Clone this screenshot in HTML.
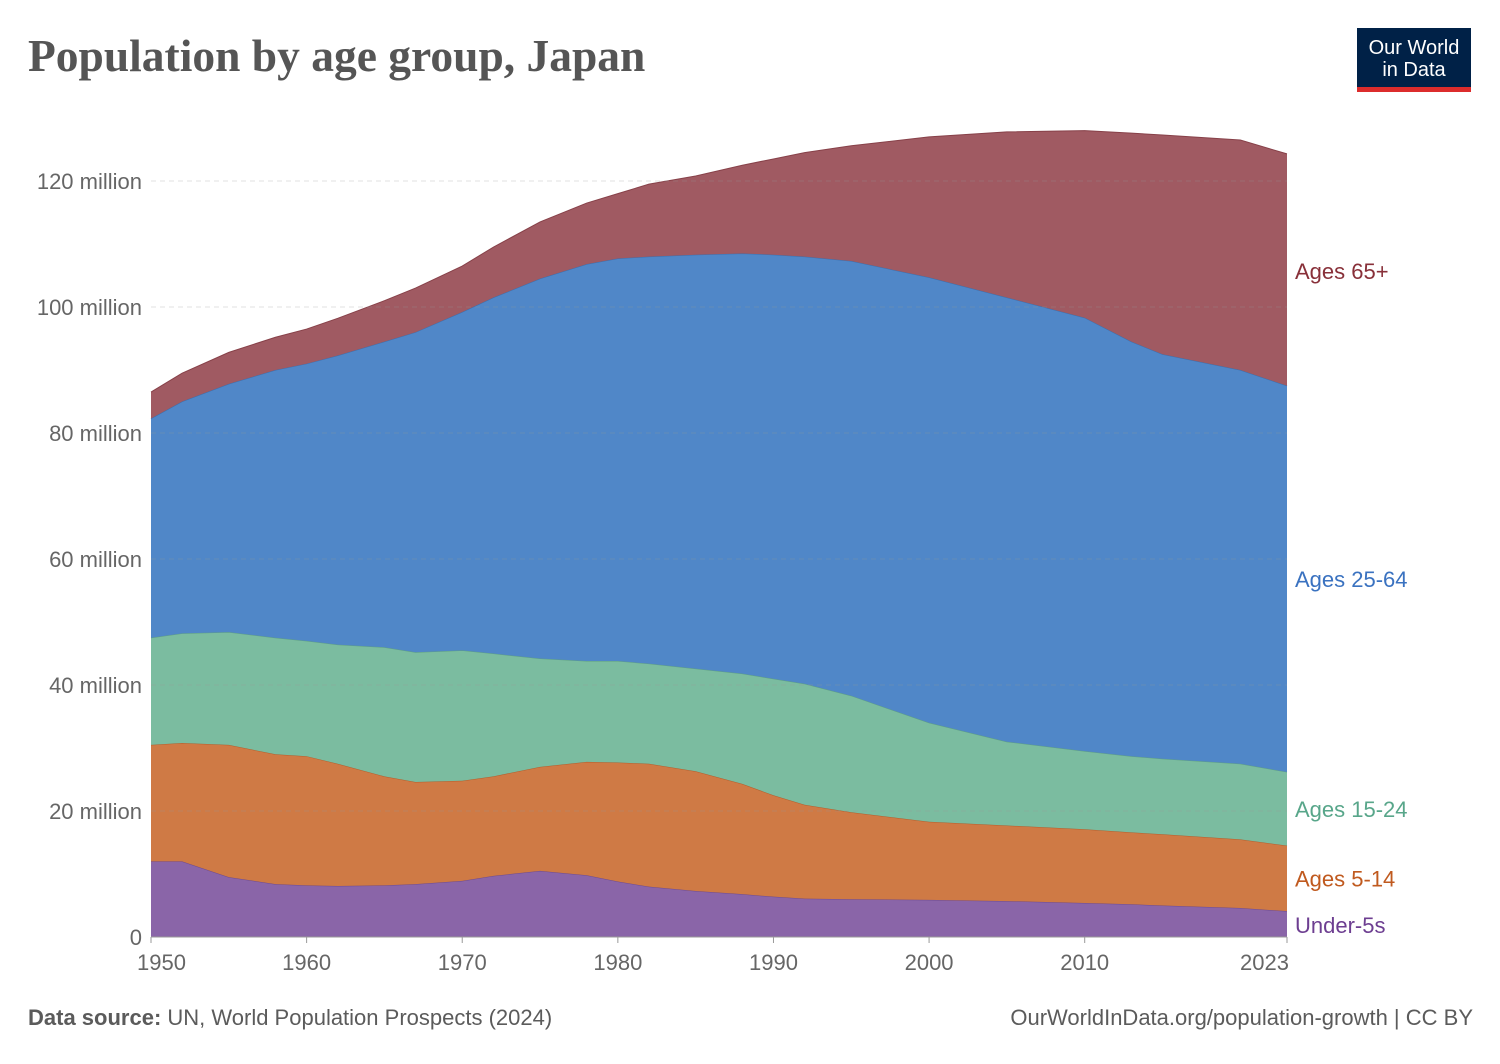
<!DOCTYPE html>
<html><head><meta charset="utf-8">
<style>
body{margin:0;background:#fff;width:1500px;height:1059px;overflow:hidden;font-family:"Liberation Sans",sans-serif}
</style></head>
<body>
<svg id="chart" width="1500" height="1059" xmlns="http://www.w3.org/2000/svg">
<text x="28" y="71" font-family="Liberation Serif, serif" font-weight="bold" font-size="45.5" fill="#555">Population by age group, Japan</text>
<g>
<rect x="1357" y="28" width="114" height="60" fill="#002147"/>
<rect x="1357" y="87" width="114" height="5" fill="#dc2c2c"/>
<text x="1414" y="54" text-anchor="middle" font-size="20" fill="#fff">Our World</text>
<text x="1414" y="76" text-anchor="middle" font-size="20" fill="#fff">in Data</text>
</g>
<g id="areas"></g>
<g id="grid"></g>
<g id="axes"></g>
<g id="labels"></g>
<text x="28" y="1025" font-size="22" fill="#5b5b5b"><tspan font-weight="bold">Data source:</tspan> UN, World Population Prospects (2024)</text>
<text x="1473" y="1025" text-anchor="end" font-size="22" fill="#5b5b5b">OurWorldInData.org/population-growth | CC BY</text>
</svg>
<script>
const years=[1950,1952,1955,1958,1960,1962,1965,1967,1970,1972,1975,1978,1980,1982,1985,1988,1990,1992,1995,2000,2005,2010,2013,2015,2020,2023];
const under5=[12.0,12.0,9.5,8.4,8.2,8.1,8.2,8.4,8.9,9.7,10.5,9.8,8.8,8.0,7.3,6.8,6.4,6.1,6.0,5.9,5.7,5.4,5.2,5.0,4.6,4.1];
const ages5to14=[18.5,18.8,21.0,20.6,20.5,19.4,17.3,16.2,15.9,15.8,16.5,18.0,18.9,19.5,19.0,17.5,16.1,14.9,13.8,12.4,12.0,11.7,11.4,11.3,10.9,10.4];
const ages15to24=[17.0,17.4,17.9,18.5,18.3,18.9,20.5,20.6,20.7,19.5,17.2,16.0,16.1,15.9,16.3,17.5,18.5,19.2,18.5,15.7,13.3,12.4,12.1,12.0,12.0,11.7];
const ages25to64=[34.8,36.8,39.4,42.5,44.0,45.9,48.5,50.8,53.7,56.5,60.3,63.0,63.9,64.6,65.7,66.7,67.3,67.8,69.0,70.7,70.5,68.8,65.8,64.2,62.5,61.3];
const ages65plus=[4.2,4.5,5.0,5.2,5.5,5.9,6.5,7.0,7.3,8.0,9.0,9.7,10.3,11.5,12.5,14.0,15.2,16.5,18.3,22.3,26.3,29.7,33.1,34.8,36.5,36.8];
const yTicks=[0,20,40,60,80,100,120];
const yTickLabels=["0","20 million","40 million","60 million","80 million","100 million","120 million"];
const xTicks=[1950,1960,1970,1980,1990,2000,2010,2023];

const NS="http://www.w3.org/2000/svg";
const x0=151,x1=1287,y0=937,y120=181;
const X=y=>x0+(y-1950)/(2023-1950)*(x1-x0);
const Y=v=>y0-v/120*(y0-y120);
function mk(t,a,p){const e=document.createElementNS(NS,t);for(const k in a)e.setAttribute(k,a[k]);p.appendChild(e);return e;}

const grid=document.getElementById('grid');
yTicks.forEach((t,i)=>{
  if(t>0){const l=mk('line',{x1:x0,x2:x1,y1:Y(t),y2:Y(t),stroke:'#999','stroke-opacity':0.3,'stroke-dasharray':'5,4'},grid);
  
  }
  const tx=mk('text',{x:142,y:Y(t)+8,'text-anchor':'end','font-size':22,fill:'#666'},grid);
  tx.textContent=yTickLabels[i];
  
  
});

const series=[
 {name:'under-5s',data:under5,fill:'#8a65a8',stroke:'#6d4a8e',label:'Under-5s',lc:'#6d3e91'},
 {name:'ages-5-14',data:ages5to14,fill:'#cf7a45',stroke:'#b25e2c',label:'Ages 5-14',lc:'#c05a1f'},
 {name:'ages-15-24',data:ages15to24,fill:'#7bbca0',stroke:'#5e9e84',label:'Ages 15-24',lc:'#58a68a'},
 {name:'ages-25-64',data:ages25to64,fill:'#5087c8',stroke:'#3b6fae',label:'Ages 25-64',lc:'#3a72c0'},
 {name:'ages-65-plus',data:ages65plus,fill:'#a05a62',stroke:'#874149',label:'Ages 65+',lc:'#883039'}
];
const areas=document.getElementById('areas'),labels=document.getElementById('labels');
let base=years.map(()=>0);
series.forEach(s=>{
  const top=base.map((b,i)=>b+s.data[i]);
  let d='M'+years.map((y,i)=>X(y)+','+Y(top[i])).join('L');
  for(let i=years.length-1;i>=0;i--)d+='L'+X(years[i])+','+Y(base[i]);
  d+='Z';
  const p=mk('path',{d:d,fill:s.fill},areas);
  
  
  const ln=mk('polyline',{points:years.map((y,i)=>X(y)+','+Y(top[i])).join(' '),fill:'none',stroke:s.stroke,'stroke-width':1},areas);
  
  
  const n=years.length-1;
  let ly=Y((base[n]+top[n])/2)+8;
  if(s.name==='under-5s')ly=933;
  if(s.name==='ages-65-plus')ly=279;
  const t=mk('text',{x:1295,y:ly,'font-size':22,fill:s.lc},labels);
  t.textContent=s.label;
  
  
  base=top;
});

const axes=document.getElementById('axes');
const ax=mk('line',{x1:x0,x2:x1,y1:y0,y2:y0,stroke:'#999'},axes);


xTicks.forEach(t=>{
  const tk=mk('line',{x1:X(t),x2:X(t),y1:y0,y2:y0+6,stroke:'#999'},axes);
  
  
  const tx=mk('text',{x:X(t),y:970,'text-anchor':t===1950?'start':(t===2023?'end':'middle'),'font-size':22,fill:'#666'},axes);
  if(t===1950)tx.setAttribute('x',X(t)-14);
  if(t===2023)tx.setAttribute('x',X(t)+2);
  tx.textContent=t;
  
  
});
</script>
</body></html>
